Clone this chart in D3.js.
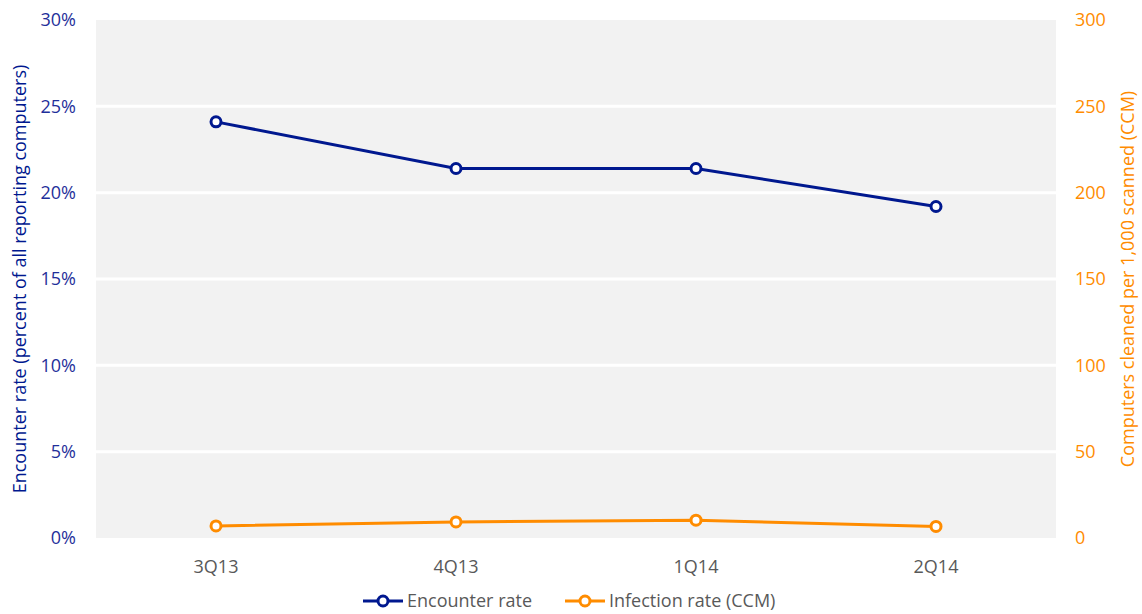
<!DOCTYPE html>
<html>
<head>
<meta charset="utf-8">
<script src="https://cdn.jsdelivr.net/npm/d3@7"></script>
<style>
  body { margin: 0; background: #fff; }
  text { font-family: "Open Sans", "Noto Sans", sans-serif; }
</style>
</head>
<body>
<script>
// data
var quarters = ["3Q13", "4Q13", "1Q14", "2Q14"];
var encounterRate = [24.1, 21.4, 21.4, 19.2];   // percent
var infectionRate = [7.0, 9.3, 10.3, 6.7];      // CCM
var leftTicks = [0, 5, 10, 15, 20, 25, 30];
var rightTicks = [0, 50, 100, 150, 200, 250, 300];

var blue = "#00188f", orange = "#ff8c00";

var margin = {top: 20, right: 86, bottom: 76, left: 96},
    width = 1142 - margin.left - margin.right,
    height = 614 - margin.top - margin.bottom;

var svg = d3.select("body").append("svg")
    .attr("width", 1142)
    .attr("height", 614);

var g = svg.append("g")
    .attr("transform", "translate(" + margin.left + "," + margin.top + ")");

var x = d3.scaleBand().domain(quarters).range([0, width]);
var yL = d3.scaleLinear().domain([0, 30]).range([height, 0]);
var yR = d3.scaleLinear().domain([0, 300]).range([height, 0]);

// plot background + white gridlines
g.append("rect")
    .attr("width", width)
    .attr("height", height)
    .attr("fill", "#f2f2f2");

g.selectAll(".grid")
    .data(leftTicks.slice(1, -1))
  .enter().append("line")
    .attr("x1", 0).attr("x2", width)
    .attr("y1", function(d) { return yL(d); })
    .attr("y2", function(d) { return yL(d); })
    .attr("stroke", "#fff")
    .attr("stroke-width", 3);

// left axis
var axL = g.append("g")
    .call(d3.axisLeft(yL).tickValues(leftTicks).tickFormat(function(d) { return d + "%"; }).tickSize(0).tickPadding(20));
axL.select(".domain").remove();
axL.selectAll("text").attr("fill", "#1f2f9a").style("font-size", "18px");

// right axis
var axR = g.append("g")
    .attr("transform", "translate(" + width + ",0)")
    .call(d3.axisRight(yR).tickValues(rightTicks).tickSize(0).tickPadding(19));
axR.select(".domain").remove();
axR.selectAll("text").attr("fill", orange).style("font-size", "18px");

// x axis
var axX = g.append("g")
    .attr("transform", "translate(0," + height + ")")
    .call(d3.axisBottom(x).tickSize(0).tickPadding(22));
axX.select(".domain").remove();
axX.selectAll("text").attr("fill", "#595959").style("font-size", "18px");

// axis titles
svg.append("text")
    .attr("transform", "translate(26," + (margin.top + height / 2) + ") rotate(-90)")
    .attr("text-anchor", "middle")
    .attr("fill", blue)
    .style("font-size", "18px")
    .text("Encounter rate (percent of all reporting computers)");

svg.append("text")
    .attr("transform", "translate(1134," + (margin.top + height / 2) + ") rotate(-90)")
    .attr("text-anchor", "middle")
    .attr("fill", orange)
    .style("font-size", "18px")
    .text("Computers cleaned per 1,000 scanned (CCM)");

// lines
function drawSeries(values, yScale, color) {
  var line = d3.line()
      .x(function(d, i) { return x(quarters[i]) + x.bandwidth() / 2; })
      .y(function(d) { return yScale(d); });
  g.append("path")
      .datum(values)
      .attr("fill", "none")
      .attr("stroke", color)
      .attr("stroke-width", 3)
      .attr("d", line);
  g.selectAll(null)
      .data(values)
    .enter().append("circle")
      .attr("cx", function(d, i) { return x(quarters[i]) + x.bandwidth() / 2; })
      .attr("cy", function(d) { return yScale(d); })
      .attr("r", 5)
      .attr("fill", "#fff")
      .attr("stroke", color)
      .attr("stroke-width", 3);
}
drawSeries(encounterRate, yL, blue);
drawSeries(infectionRate, yR, orange);

// legend
var legend = [
  {name: "Encounter rate", color: blue, x: 363},
  {name: "Infection rate (CCM)", color: orange, x: 565}
];
var lg = svg.selectAll(".legend")
    .data(legend)
  .enter().append("g")
    .attr("transform", function(d) { return "translate(" + d.x + ",601)"; });
lg.append("line")
    .attr("x1", 0).attr("x2", 40)
    .attr("stroke", function(d) { return d.color; })
    .attr("stroke-width", 3);
lg.append("circle")
    .attr("cx", 20).attr("r", 5)
    .attr("fill", "#fff")
    .attr("stroke", function(d) { return d.color; })
    .attr("stroke-width", 3);
lg.append("text")
    .attr("x", 44)
    .attr("dy", "0.35em")
    .attr("fill", "#595959")
    .style("font-size", "18px")
    .text(function(d) { return d.name; });
</script>
</body>
</html>
